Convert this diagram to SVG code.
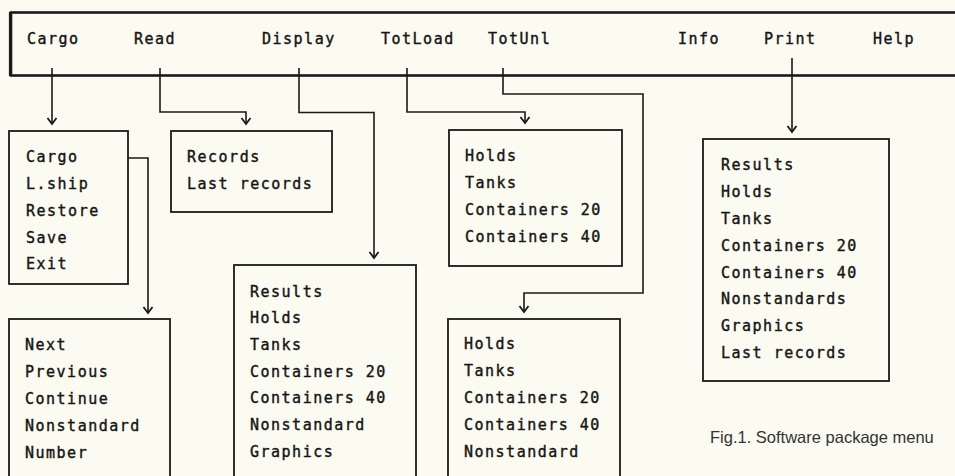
<svg xmlns="http://www.w3.org/2000/svg" width="955" height="476" viewBox="0 0 955 476">
<defs>
<style>
.bg{fill:#fcfbf1}
.box{fill:none;stroke:#1a1a1a;stroke-width:1.8}
.bar{fill:none;stroke:#1a1a1a;stroke-width:2.6}
.t{font-family:"DejaVu Sans Mono","Liberation Mono",monospace;font-size:15px;letter-spacing:1.5px;fill:#151515;stroke:#151515;stroke-width:0.4}
.cap{font-family:"Liberation Sans",Arial,sans-serif;font-size:16.5px;fill:#333}
.con{fill:none;stroke:#1a1a1a;stroke-width:1.6;marker-end:url(#arr)}
</style>
<marker id="arr" markerUnits="userSpaceOnUse" markerWidth="14" markerHeight="14" viewBox="-8 -7 10 14" refX="0" refY="0" orient="auto">
<path d="M-6,-4.5 L0,0 L-6,4.5" fill="none" stroke="#1a1a1a" stroke-width="1.8"/>
</marker>
</defs>
<rect class="bg" x="0" y="0" width="955" height="476"/>

<g id="menubar">
<rect class="bar" x="11" y="12.5" width="960" height="63"/>
<line x1="9.5" y1="12" x2="9.5" y2="76" stroke="#1a1a1a" stroke-width="1.2"/>
<text class="t" x="27" y="44">Cargo</text>
<text class="t" x="134" y="44">Read</text>
<text class="t" x="262" y="44">Display</text>
<text class="t" x="381" y="44">TotLoad</text>
<text class="t" x="488" y="44">TotUnl</text>
<text class="t" x="678" y="44">Info</text>
<text class="t" x="764" y="44">Print</text>
<text class="t" x="873" y="44">Help</text>
</g>

<g id="connectors">
<path class="con" d="M52 68 V124"/>
<path class="con" d="M160 68 V112 H246 V124"/>
<path class="con" d="M299 68 V112.5 H374 V258"/>
<path class="con" d="M407 68 V112 H525 V123"/>
<path class="con" d="M503 68 V94 H643 V293 H524 V312"/>
<path class="con" d="M792 58 V132"/>
<path class="con" d="M128 158 H148 V313"/>
</g>

<g id="cargo-menu">
<rect class="box" x="9" y="131" width="119" height="153"/>
<text class="t" x="26" y="162">Cargo</text>
<text class="t" x="26" y="189">L.ship</text>
<text class="t" x="26" y="216">Restore</text>
<text class="t" x="26" y="243">Save</text>
<text class="t" x="26" y="269">Exit</text>
</g>

<g id="read-menu">
<rect class="box" x="171" y="131" width="161" height="81"/>
<text class="t" x="187" y="162">Records</text>
<text class="t" x="187" y="189">Last records</text>
</g>

<g id="display-menu">
<rect class="box" x="234" y="265" width="182" height="220"/>
<text class="t" x="250" y="297">Results</text>
<text class="t" x="250" y="323">Holds</text>
<text class="t" x="250" y="350">Tanks</text>
<text class="t" x="250" y="377">Containers 20</text>
<text class="t" x="250" y="403">Containers 40</text>
<text class="t" x="250" y="430">Nonstandard</text>
<text class="t" x="250" y="457">Graphics</text>
</g>

<g id="totload-menu">
<rect class="box" x="449" y="130" width="173" height="136"/>
<text class="t" x="465" y="161">Holds</text>
<text class="t" x="465" y="188">Tanks</text>
<text class="t" x="465" y="215">Containers 20</text>
<text class="t" x="465" y="242">Containers 40</text>
</g>

<g id="totunl-menu">
<rect class="box" x="448" y="319" width="172" height="166"/>
<text class="t" x="464" y="349">Holds</text>
<text class="t" x="464" y="376">Tanks</text>
<text class="t" x="464" y="403">Containers 20</text>
<text class="t" x="464" y="430">Containers 40</text>
<text class="t" x="464" y="457">Nonstandard</text>
</g>

<g id="print-menu">
<rect class="box" x="703" y="139" width="186" height="242"/>
<text class="t" x="721" y="170">Results</text>
<text class="t" x="721" y="197">Holds</text>
<text class="t" x="721" y="224">Tanks</text>
<text class="t" x="721" y="251">Containers 20</text>
<text class="t" x="721" y="278">Containers 40</text>
<text class="t" x="721" y="304">Nonstandards</text>
<text class="t" x="721" y="331">Graphics</text>
<text class="t" x="721" y="358">Last records</text>
</g>

<g id="next-menu">
<rect class="box" x="9" y="319" width="161" height="166"/>
<text class="t" x="25" y="350">Next</text>
<text class="t" x="25" y="377">Previous</text>
<text class="t" x="25" y="404">Continue</text>
<text class="t" x="25" y="431">Nonstandard</text>
<text class="t" x="25" y="458">Number</text>
</g>

<g id="caption">
<text class="cap" x="710" y="443">Fig.1. Software package menu</text>
</g>
</svg>
